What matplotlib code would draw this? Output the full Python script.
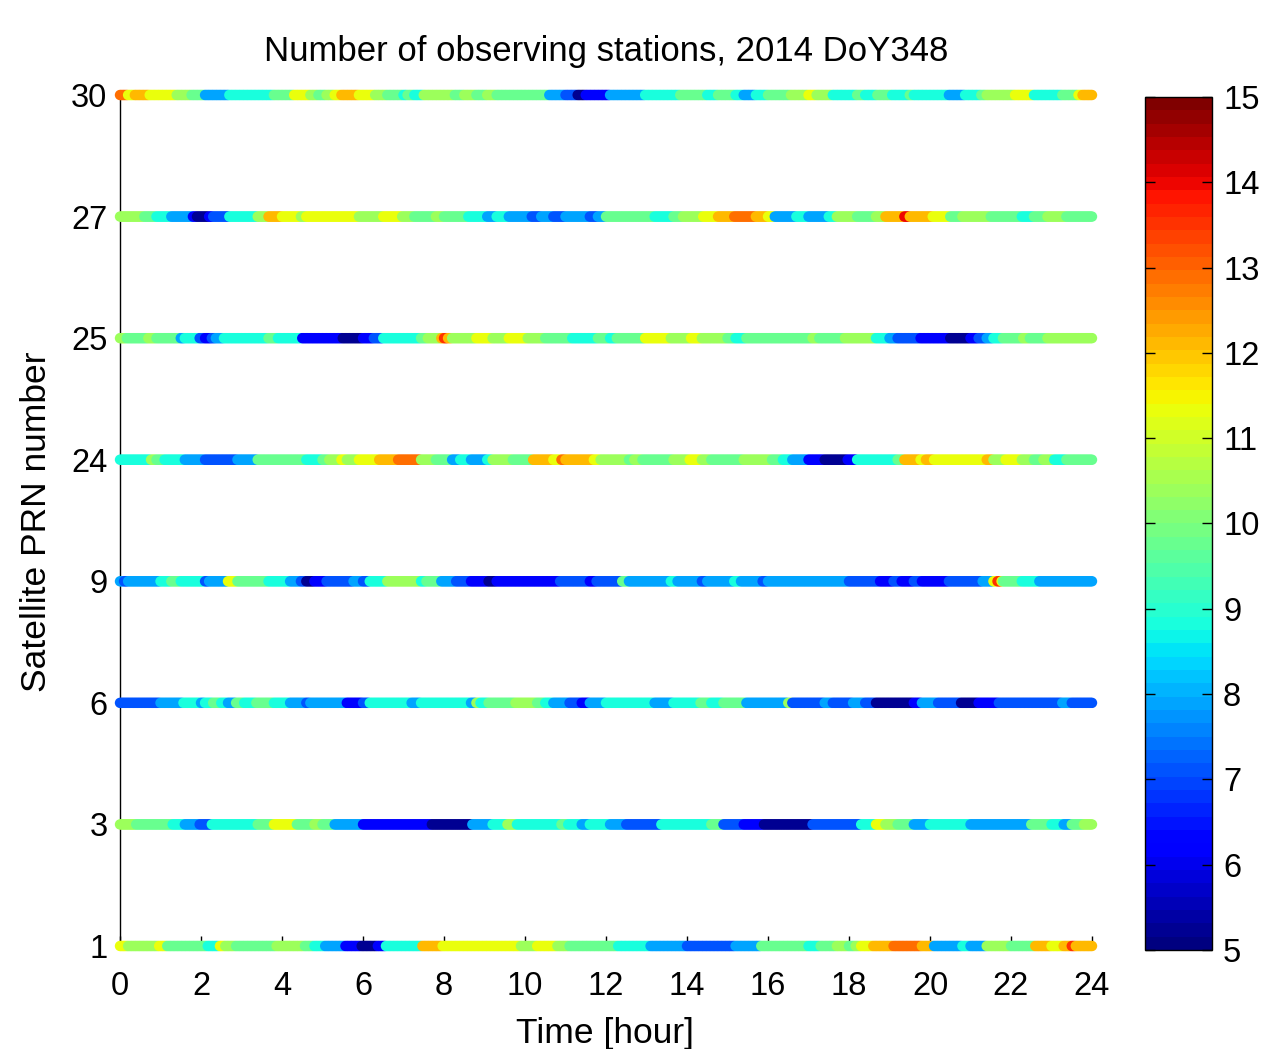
import numpy as np
import matplotlib
matplotlib.use('Agg')
import matplotlib.pyplot as plt
from matplotlib.colors import Normalize
from matplotlib.cm import ScalarMappable

plt.rcParams['font.family'] = ['Liberation Sans', 'DejaVu Sans']

title = 'Number of observing stations, 2014 DoY348'
xlabel = 'Time [hour]'
ylabel = 'Satellite PRN number'
prn_labels = ['1', '3', '6', '9', '24', '25', '27', '30']
x_ticks = [0, 2, 4, 6, 8, 10, 12, 14, 16, 18, 20, 22, 24]
cbar_ticks = [5, 6, 7, 8, 9, 10, 11, 12, 13, 14, 15]

# segment start times [hour] and observed station counts (constant until next start)
prn1_start = [0, 0.2, 0.95, 1.15, 2.15, 2.45, 2.6, 2.85, 3.85, 4.55, 4.8, 5.05, 5.55, 5.95, 6.35, 6.55,
              7.45, 7.95, 9.9, 10.3, 10.8, 11.1, 12.3, 13.1, 14.0, 15.2, 15.8, 17.0, 17.3, 17.7, 18.0,
              18.15, 18.3, 18.6, 19.1, 19.8, 20.1, 20.8, 21.0, 21.4, 22.0, 22.6, 23.0, 23.3, 23.5, 23.6]
prn1_value = [11.25, 10.4, 11.25, 9.7, 8.75, 11.25, 10.4, 9.7, 10.4, 9.7, 8.75, 7.9, 6.1, 5.3, 6.1, 8.75,
              12.1, 11.25, 10.4, 11.25, 10.4, 9.7, 8.75, 7.9, 7.1, 7.9, 9.7, 8.75, 9.7, 10.4, 9.7,
              10.4, 11.25, 12.1, 12.9, 12.1, 7.9, 8.75, 7.9, 10.4, 9.7, 12.1, 11.25, 12.1, 13.5, 12.1]

prn3_start = [0, 0.4, 1.3, 1.6, 1.95, 2.25, 3.4, 3.8, 4.35, 4.8, 5.0, 5.3, 6.0, 7.7, 8.7, 9.2, 9.55,
              9.8, 10.9, 11.05, 11.4, 11.6, 12.1, 12.5, 13.35, 14.6, 14.9, 15.4, 15.9, 17.1, 18.3,
              18.65, 18.9, 19.2, 19.6, 20.0, 21.0, 22.5, 23.0, 23.3, 23.5, 23.8]
prn3_value = [10.4, 9.7, 8.75, 7.9, 7.1, 8.75, 9.7, 11.25, 9.7, 10.4, 9.7, 7.9, 6.1, 5.3, 7.9, 8.75, 10.4,
              8.75, 9.7, 8.75, 7.9, 8.75, 7.9, 7.1, 8.75, 9.7, 7.1, 6.1, 5.3, 7.1, 8.75,
              11.25, 10.4, 9.7, 7.9, 8.75, 7.9, 9.7, 8.75, 7.9, 9.7, 10.4]

prn6_start = [0, 1.0, 1.55, 2.0, 2.1, 2.3, 2.5, 2.65, 2.85, 3.05, 3.35, 3.8, 4.2, 4.6, 4.7, 5.6, 6.0,
              6.15, 7.2, 7.4, 8.65, 8.8, 8.9, 9.1, 9.75, 10.3, 10.5, 10.7, 11.1, 11.4, 11.6, 12.0,
              13.2, 13.65, 14.3, 14.6, 14.9, 15.45, 16.5, 16.6, 17.4, 17.6, 18.1, 18.4, 18.65, 19.6,
              19.8, 20.2, 20.75, 21.2, 21.7, 23.25, 23.5]
prn6_value = [7.1, 7.9, 8.75, 7.9, 8.75, 9.7, 8.75, 7.9, 9.7, 8.75, 9.7, 8.75, 7.9, 7.1, 7.9, 6.1, 7.1,
              8.75, 7.9, 8.75, 7.9, 10.4, 8.75, 9.7, 10.4, 9.7, 8.75, 7.9, 7.1, 6.1, 7.9, 8.75,
              7.9, 8.75, 9.7, 8.75, 9.7, 7.9, 10.4, 7.1, 7.9, 7.1, 7.9, 7.1, 5.3, 6.1,
              7.9, 7.1, 5.3, 6.1, 7.1, 7.9, 7.1]

prn9_start = [0, 0.1, 0.2, 1.0, 1.25, 1.5, 2.1, 2.2, 2.65, 2.9, 3.65, 4.2, 4.45, 4.6, 4.8, 5.1, 5.75,
              6.0, 6.15, 6.6, 7.4, 7.55, 7.9, 8.3, 8.65, 9.1, 9.3, 10.85, 11.6, 11.75, 12.4, 12.55,
              13.6, 13.75, 14.35, 14.5, 15.15, 15.3, 15.85, 16.0, 18.0, 18.75, 19.1, 19.3, 19.6, 19.8,
              20.45, 21.3, 21.55, 21.65, 21.75, 21.8, 22.25, 22.7]
prn9_value = [7.9, 7.1, 7.9, 8.75, 9.7, 8.75, 7.1, 7.9, 11.25, 9.7, 8.75, 7.9, 7.1, 5.3, 6.1, 7.1, 7.9,
              7.1, 8.75, 10.4, 8.75, 9.7, 7.9, 7.1, 6.1, 5.3, 6.1, 7.1, 6.1, 7.1, 9.7, 7.9,
              8.75, 7.9, 7.1, 7.9, 8.75, 7.9, 7.1, 7.9, 7.1, 6.1, 7.1, 6.1, 7.1, 6.1,
              7.1, 7.9, 11.25, 13.5, 11.25, 9.7, 8.75, 7.9]

prn24_start = [0, 0.75, 0.9, 1.1, 1.6, 2.1, 2.9, 3.4, 4.6, 5.0, 5.15, 5.45, 5.6, 5.9, 6.4, 6.85, 7.4,
               7.8, 8.2, 8.4, 8.65, 9.05, 9.2, 9.7, 10.2, 10.7, 10.9, 11.0, 11.7, 11.85, 12.55, 12.7,
               12.9, 13.65, 14.05, 14.35, 14.6, 15.4, 16.1, 16.35, 16.6, 17.0, 17.4, 17.95, 18.2,
               19.2, 19.35, 19.75, 19.9, 20.1, 21.4, 21.55, 21.85, 22.25, 22.55, 22.8, 23.05, 23.35]
prn24_value = [8.75, 10.4, 9.7, 8.75, 7.9, 7.1, 7.9, 9.7, 8.75, 9.7, 10.4, 11.25, 10.4, 11.25, 12.1, 12.9, 10.4,
               9.7, 7.9, 8.75, 7.9, 8.75, 10.4, 9.7, 12.1, 11.25, 12.9, 12.1, 11.25, 10.4, 9.7, 10.4,
               9.7, 10.4, 11.25, 10.4, 9.7, 10.4, 9.7, 8.75, 7.9, 6.1, 5.3, 6.1, 8.75,
               9.7, 12.1, 11.25, 12.1, 11.25, 12.1, 10.4, 11.25, 10.4, 9.7, 10.4, 8.75, 9.7]

prn25_start = [0, 0.15, 0.7, 0.9, 1.5, 1.6, 1.95, 2.1, 2.25, 2.35, 2.55, 3.65, 3.9, 4.5, 5.5, 6.0, 6.25,
               6.5, 7.4, 7.6, 7.9, 8.0, 8.1, 8.2, 8.8, 9.2, 9.6, 10.05, 10.5, 11.15, 11.8, 12.1, 12.25,
               12.95, 13.6, 14.1, 14.35, 15.0, 15.2, 15.45, 17.1, 17.25, 17.9, 18.65, 19.0, 19.2, 19.75,
               20.5, 21.0, 21.2, 21.4, 21.55, 21.8, 22.3, 22.45, 22.9]
prn25_value = [10.4, 9.7, 10.4, 9.7, 7.9, 8.75, 7.1, 6.1, 7.1, 7.9, 8.75, 9.7, 8.75, 6.1, 5.3, 6.1, 7.1,
               8.75, 9.7, 10.4, 12.1, 13.5, 12.1, 10.4, 11.25, 10.4, 11.25, 10.4, 9.7, 8.75, 9.7, 8.75, 9.7,
               11.25, 10.4, 11.25, 10.4, 9.7, 8.75, 9.7, 10.4, 9.7, 10.4, 8.75, 7.9, 7.1, 6.1,
               5.3, 6.1, 7.1, 7.9, 8.75, 9.7, 10.4, 9.7, 10.4]

prn27_start = [0, 0.6, 0.9, 1.25, 1.8, 1.9, 2.2, 2.3, 2.7, 3.4, 3.65, 4.0, 4.45, 4.6, 5.9, 6.5, 6.95,
               7.25, 7.8, 8.0, 8.6, 9.05, 9.3, 9.6, 10.15, 10.4, 10.7, 11.0, 11.6, 11.8, 12.0, 13.2,
               13.65, 13.9, 14.4, 14.75, 15.15, 15.7, 16.0, 16.15, 16.7, 17.0, 17.5, 17.7, 18.2, 18.65,
               18.9, 19.35, 19.5, 20.05, 20.5, 20.8, 21.5, 22.25, 22.55, 22.9, 23.35]
prn27_value = [10.4, 9.7, 8.75, 7.9, 6.1, 5.3, 6.1, 7.1, 8.75, 10.4, 12.1, 11.25, 10.4, 11.25, 10.4, 11.25, 10.4,
               9.7, 10.4, 9.7, 8.75, 7.9, 8.75, 7.9, 7.1, 7.9, 7.1, 7.9, 7.1, 7.9, 9.7, 8.75,
               9.7, 10.4, 11.25, 12.1, 12.9, 12.1, 11.25, 7.9, 8.75, 7.9, 8.75, 10.4, 9.7, 10.4,
               12.1, 14.0, 12.1, 11.25, 9.7, 10.4, 9.7, 8.75, 9.7, 10.4, 9.7]

prn30_start = [0, 0.2, 0.35, 0.72, 1.4, 1.75, 2.1, 2.7, 3.8, 4.3, 4.7, 4.9, 5.1, 5.3, 5.45, 5.9, 6.3,
               6.6, 7.0, 7.1, 7.25, 7.5, 8.25, 8.5, 8.8, 9.05, 9.3, 10.6, 11.0, 11.3, 11.5, 12.1,
               12.95, 13.8, 14.5, 14.75, 15.2, 15.4, 15.7, 16.0, 16.55, 17.0, 17.2, 17.6, 18.2, 18.4,
               18.7, 19.05, 19.5, 19.6, 20.45, 20.85, 21.25, 21.4, 22.1, 22.55, 23.25, 23.65, 23.75]
prn30_value = [12.9, 11.25, 12.1, 11.25, 10.4, 9.7, 7.9, 8.75, 9.7, 11.25, 10.4, 9.7, 10.4, 11.25, 12.1, 11.25, 10.4,
               9.7, 8.75, 9.7, 8.75, 10.4, 9.7, 10.4, 9.7, 10.4, 9.7, 7.9, 7.1, 5.3, 6.1, 7.9,
               8.75, 9.7, 8.75, 9.7, 8.75, 7.9, 8.75, 9.7, 10.4, 11.25, 10.4, 8.75, 9.7, 8.75,
               9.7, 8.75, 9.7, 8.75, 7.9, 8.75, 9.7, 10.4, 11.25, 8.75, 9.7, 11.25, 12.1]

rows = [(prn1_start, prn1_value), (prn3_start, prn3_value), (prn6_start, prn6_value),
        (prn9_start, prn9_value), (prn24_start, prn24_value), (prn25_start, prn25_value),
        (prn27_start, prn27_value), (prn30_start, prn30_value)]

W, H = 1270, 1049
fig = plt.figure(figsize=(W / 100, H / 100), dpi=100)
ax = fig.add_axes([120 / W, 1 - 946 / H, (1092 - 120) / W, (946 - 95) / H])

cmap = plt.get_cmap('jet', 64)
norm = Normalize(vmin=5, vmax=15)
epochs = np.arange(0, 24 + 1e-9, 1 / 30)
for i, (st, vals) in enumerate(rows):
    idx = np.searchsorted(np.asarray(st), epochs, side='right') - 1
    c = np.asarray(vals)[idx]
    ax.scatter(epochs, np.full(epochs.shape, i), c=c, cmap=cmap, norm=norm, s=56,
               linewidths=0, clip_on=False, zorder=3)

ax.set_xlim(0, 24)
ax.set_ylim(0, 7)
ax.set_xticks(x_ticks)
ax.set_xticklabels([str(t) for t in x_ticks])
ax.set_yticks(range(len(prn_labels)))
ax.set_yticklabels(prn_labels)
ax.spines['top'].set_visible(False)
ax.spines['right'].set_visible(False)
ax.spines['left'].set_linewidth(1.0)
ax.spines['bottom'].set_linewidth(1.0)
ax.tick_params(axis='x', direction='in', length=7, width=1, labelsize=23.5, pad=18)
ax.tick_params(axis='y', direction='in', length=7, width=1, labelsize=23.5, pad=9)

fig.text(606 / W, 1 - 52 / H, title, ha='center', va='center', fontsize=25)
fig.text(605 / W, 1 - 1034 / H, xlabel, ha='center', va='center', fontsize=25.5)
fig.text(37 / W, 1 - 522 / H, ylabel, ha='center', va='center', rotation=90, fontsize=25.5)

cax = fig.add_axes([1145 / W, 1 - 950 / H, 67 / W, 853 / H])
sm = ScalarMappable(norm=norm, cmap=cmap)
cb = fig.colorbar(sm, cax=cax, ticks=cbar_ticks)
cb.outline.set_linewidth(1.0)
cax.tick_params(direction='in', length=7, width=1, labelsize=23.5, pad=8, left=True, right=True)

fig.savefig('out.png', dpi=100)
